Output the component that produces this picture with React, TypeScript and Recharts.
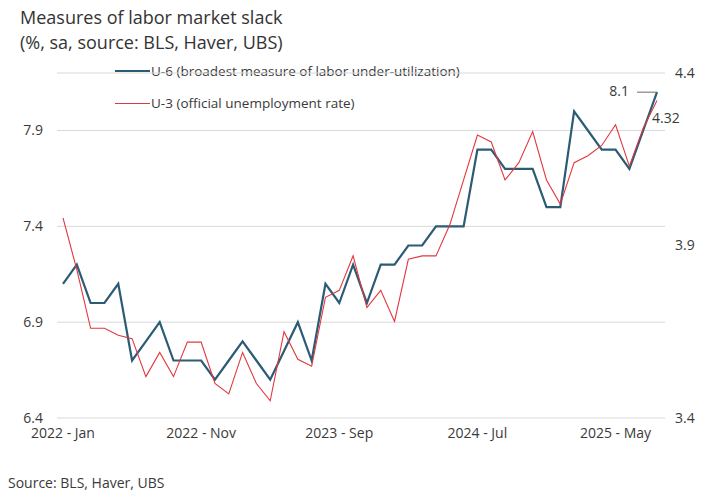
import React from "react";
import { LineChart, Line, XAxis, YAxis, CartesianGrid, LabelList } from "recharts";

// monthly, Jan 2022 .. Aug 2025
const months = [
  "2022 - Jan", "2022 - Feb", "2022 - Mar", "2022 - Apr", "2022 - May", "2022 - Jun",
  "2022 - Jul", "2022 - Aug", "2022 - Sep", "2022 - Oct", "2022 - Nov", "2022 - Dec",
  "2023 - Jan", "2023 - Feb", "2023 - Mar", "2023 - Apr", "2023 - May", "2023 - Jun",
  "2023 - Jul", "2023 - Aug", "2023 - Sep", "2023 - Oct", "2023 - Nov", "2023 - Dec",
  "2024 - Jan", "2024 - Feb", "2024 - Mar", "2024 - Apr", "2024 - May", "2024 - Jun",
  "2024 - Jul", "2024 - Aug", "2024 - Sep", "2024 - Oct", "2024 - Nov", "2024 - Dec",
  "2025 - Jan", "2025 - Feb", "2025 - Mar", "2025 - Apr", "2025 - May", "2025 - Jun",
  "2025 - Jul", "2025 - Aug",
];

// U-6, left axis
const u6 = [
  7.1, 7.2, 7.0, 7.0, 7.1, 6.7, 6.8, 6.9, 6.7, 6.7, 6.7, 6.6,
  6.7, 6.8, 6.7, 6.6, 6.75, 6.9, 6.7, 7.1, 7.0, 7.2, 7.0, 7.2,
  7.2, 7.3, 7.3, 7.4, 7.4, 7.4, 7.8, 7.8, 7.7, 7.7, 7.7, 7.5,
  7.5, 8.0, 7.9, 7.8, 7.8, 7.7, 7.9, 8.1,
];

// U-3, right axis
const u3 = [
  3.98, 3.83, 3.66, 3.66, 3.64, 3.63, 3.52, 3.59, 3.52, 3.62, 3.62, 3.5,
  3.47, 3.59, 3.5, 3.45, 3.65, 3.57, 3.55, 3.75, 3.77, 3.87, 3.72, 3.77,
  3.68, 3.86, 3.87, 3.87, 3.96, 4.09, 4.22, 4.2, 4.09, 4.14, 4.23, 4.09,
  4.02, 4.14, 4.16, 4.19, 4.25, 4.13, 4.24, 4.32,
];

const leftTicks = [6.4, 6.9, 7.4, 7.9];
const rightTicks = [3.4, 3.9, 4.4];
const xTicks = ["2022 - Jan", "2022 - Nov", "2023 - Sep", "2024 - Jul", "2025 - May"];
const u6EndLabel = "8.1";
const u3EndLabel = "4.32";

const FONT = "'Open Sans', 'Noto Sans', sans-serif";
const TEXT = "#3a3a3a";
const U6_COLOR = "#2c5b76";
const U3_COLOR = "#e0383e";

const data = months.map((m, i) => ({ month: m, u6: u6[i], u3: u3[i] }));
const last = months.length - 1;

const U6End = (props: any) => {
  const { x, y, index } = props;
  if (index !== last) return null;
  return (
    <g>
      <line x1={x - 20} y1={y} x2={x} y2={y} stroke="#6b6b6b" strokeWidth={1} />
      <text x={x - 28} y={y} dy={4} textAnchor="end" fontSize={14} fill={TEXT} fontFamily={FONT}>
        {u6EndLabel}
      </text>
    </g>
  );
};

const U3End = (props: any) => {
  const { x, y, index } = props;
  if (index !== last) return null;
  return (
    <text x={x - 5} y={y + 17} dy={5} textAnchor="start" fontSize={14} fill={TEXT} fontFamily={FONT}>
      {u3EndLabel}
    </text>
  );
};

const tickStyle = { fontSize: 14, fill: TEXT, fontFamily: FONT };

export default function App() {
  return (
    <div style={{ position: "absolute", left: 0, top: 0, width: 705, height: 497, background: "#fff", fontFamily: FONT }}>
      <div style={{ position: "absolute", left: 20, top: 5, fontSize: 18, lineHeight: "25px", color: "#333" }}>
        Measures of labor market slack
        <br />
        (%, sa, source: BLS, Haver, UBS)
      </div>

      <div style={{ position: "absolute", left: 115, top: 61, fontSize: 13.5, color: TEXT, lineHeight: "32px" }}>
        <div style={{ display: "flex", alignItems: "center", height: 20 }}>
          <span style={{ display: "inline-block", width: 35, height: 2, background: U6_COLOR, marginRight: 1 }} />
          U-6 (broadest measure of labor under-utilization)
        </div>
        <div style={{ display: "flex", alignItems: "center", height: 20, marginTop: 12 }}>
          <span style={{ display: "inline-block", width: 35, height: 1, background: U3_COLOR, marginRight: 1 }} />
          U-3 (official unemployment rate)
        </div>
      </div>

      <LineChart width={705} height={497} data={data} margin={{ top: 73, right: 0, bottom: 49, left: 0 }}>
        <CartesianGrid yAxisId="left" vertical={false} stroke="#d9d9d9" />
        <XAxis
          dataKey="month"
          ticks={xTicks}
          interval={0}
          axisLine={false}
          tickLine={false}
          tickSize={0}
          tickMargin={10}
          height={30}
          padding={{ left: 6, right: 8 }}
          tick={tickStyle}
        />
        <YAxis
          yAxisId="left"
          orientation="left"
          domain={[6.4, 8.2]}
          ticks={leftTicks}
          width={57}
          axisLine={false}
          tickLine={false}
          tickSize={0}
          tickMargin={14}
          tick={tickStyle}
          tickFormatter={(v: number) => v.toFixed(1)}
        />
        <YAxis
          yAxisId="right"
          orientation="right"
          domain={[3.4, 4.4]}
          ticks={rightTicks}
          width={40}
          axisLine={false}
          tickLine={false}
          tickSize={0}
          tickMargin={10}
          tick={tickStyle}
          tickFormatter={(v: number) => v.toFixed(1)}
        />
        <Line
          yAxisId="left"
          dataKey="u6"
          type="linear"
          stroke={U6_COLOR}
          strokeWidth={2.2}
          dot={false}
          activeDot={false}
          isAnimationActive={false}
        >
          <LabelList dataKey="u6" content={<U6End />} />
        </Line>
        <Line
          yAxisId="right"
          dataKey="u3"
          type="linear"
          stroke={U3_COLOR}
          strokeWidth={1.1}
          dot={false}
          activeDot={false}
          isAnimationActive={false}
        >
          <LabelList dataKey="u3" content={<U3End />} />
        </Line>
      </LineChart>

      <div style={{ position: "absolute", left: 8, top: 473, fontSize: 14, color: TEXT }}>
        Source: BLS, Haver, UBS
      </div>
    </div>
  );
}
